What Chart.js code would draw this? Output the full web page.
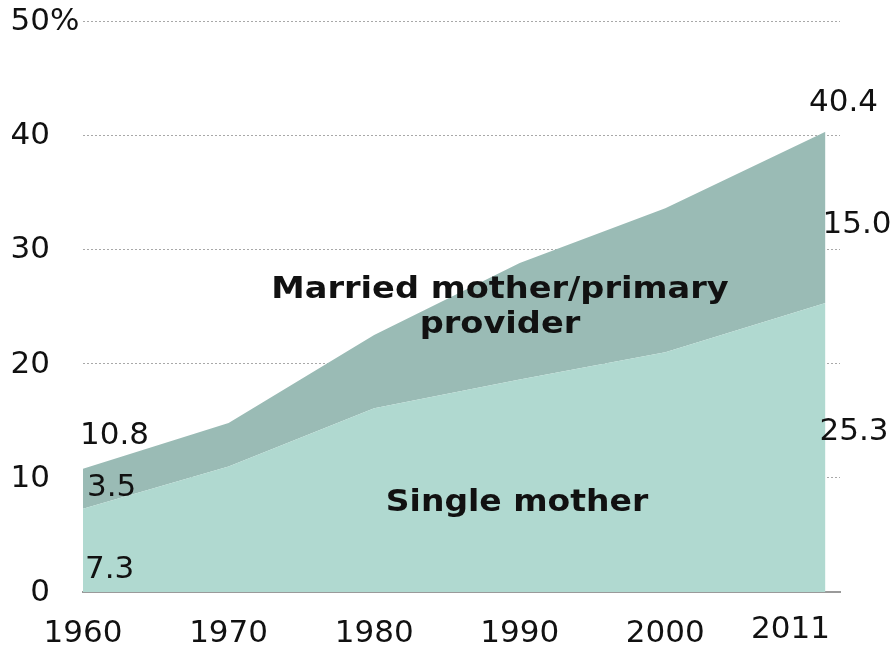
<!DOCTYPE html>
<html>
<head>
<meta charset="utf-8">
<script src="https://cdn.jsdelivr.net/npm/chart.js@4"></script>
<style>
html,body{margin:0;padding:0;background:#fff;}
#wrap{width:895px;height:651px;position:relative;}
</style>
</head>
<body>
<div id="wrap"><canvas id="c" width="895" height="651"></canvas></div>
<script>
const years = [1960, 1970, 1980, 1990, 2000, 2011];
const singleMother = [7.3, 11.0, 16.1, 18.6, 21.0, 25.3];
const marriedMother = [3.5, 3.8, 6.4, 10.2, 12.6, 15.0];
const xTickLabels = ['1960', '1970', '1980', '1990', '2000', '2011'];
const yTicks = [0, 10, 20, 30, 40, 50];
const yTickLabels = ['0', '10', '20', '30', '40', '50%'];

const FONT = '"DejaVu Sans", Verdana, sans-serif';
const LIGHT = 'rgb(176,217,208)';
const DARK = 'rgb(154,187,181)';

function wideText(ctx, txt, cx, cy, sx) {
  ctx.save();
  ctx.translate(cx, cy);
  ctx.scale(sx, 1);
  ctx.textAlign = 'center';
  ctx.fillText(txt, 0, 0);
  ctx.restore();
}

const annotations = {
  id: 'annotations',
  afterDraw(chart) {
    const ctx = chart.ctx;
    const xs = chart.scales.x, ys = chart.scales.y;
    ctx.save();
    ctx.fillStyle = '#111';
    ctx.textBaseline = 'middle';
    ctx.font = '31px ' + FONT;
    // x-axis tick labels, positioned by the x scale
    ctx.textAlign = 'center';
    years.forEach((yr, i) => {
      const last = i === years.length - 1;
      ctx.fillText(xTickLabels[i], xs.getPixelForValue(yr) + (last ? -35 : 0), xs.top + (last ? 38 : 42));
    });
    // y-axis tick labels, positioned by the y scale (numbers right-aligned, % hangs)
    yTicks.forEach((v, i) => {
      const lbl = yTickLabels[i];
      const num = lbl.replace('%', '');
      const y = ys.getPixelForValue(v) + 1;
      ctx.textAlign = 'right';
      ctx.fillText(num, 50, y);
      if (lbl.endsWith('%')) { ctx.textAlign = 'left'; ctx.fillText('%', 50, y); }
    });
    ctx.textAlign = 'left';
    const x0 = xs.getPixelForValue(years[0]);
    const xl = xs.getPixelForValue(years[years.length - 1]);
    ctx.fillText('10.8', x0 - 3, ys.getPixelForValue(13.7));
    ctx.fillText('3.5', x0 + 4, ys.getPixelForValue(9.1));
    ctx.fillText('7.3', x0 + 2, ys.getPixelForValue(1.9));
    ctx.fillText('15.0', xl - 3, ys.getPixelForValue(32.1));
    ctx.fillText('25.3', xl - 6, ys.getPixelForValue(14.0));
    ctx.textAlign = 'center';
    ctx.fillText('40.4', xl + 18, ys.getPixelForValue(42.8));
    ctx.font = 'bold 30px ' + FONT;
    wideText(ctx, 'Married mother/primary', 500, ys.getPixelForValue(26.4), 1.12);
    wideText(ctx, 'provider', 500, ys.getPixelForValue(23.4), 1.12);
    wideText(ctx, 'Single mother', 517, ys.getPixelForValue(7.8), 1.1);
    ctx.restore();
  }
};

new Chart(document.getElementById('c'), {
  type: 'line',
  data: {
    datasets: [
      {
        label: 'Single mother',
        data: years.map((y, i) => ({x: y, y: singleMother[i]})),
        backgroundColor: LIGHT,
        borderWidth: 0,
        pointRadius: 0,
        fill: 'origin',
        tension: 0
      },
      {
        label: 'Married mother/primary provider',
        data: years.map((y, i) => ({x: y, y: marriedMother[i]})),
        backgroundColor: DARK,
        borderWidth: 0,
        pointRadius: 0,
        fill: '-1',
        tension: 0
      }
    ]
  },
  options: {
    responsive: false,
    animation: false,
    events: [],
    layout: {padding: {top: 21, right: 55, left: 0, bottom: 0}},
    plugins: {legend: {display: false}, tooltip: {enabled: false}},
    scales: {
      x: {
        type: 'linear',
        min: 1960,
        max: 2012,
        z: 1,
        afterBuildTicks(scale) { scale.ticks = years.map(v => ({value: v})); },
        afterFit(scale) { scale.height = 59; },
        grid: {display: false, drawTicks: false},
        border: {display: true, color: '#9a9a9a', width: 2},
        ticks: {display: false}
      },
      y: {
        stacked: true,
        min: 0,
        max: 50,
        z: 1,
        afterBuildTicks(scale) { scale.ticks = yTicks.map(v => ({value: v})); },
        afterFit(scale) { scale.width = 83; },
        grid: {
          color: (c) => c.tick && c.tick.value === 0 ? 'rgba(0,0,0,0)' : '#a8a8a8',
          lineWidth: 1,
          drawTicks: false
        },
        border: {display: false, dash: [2, 2]},
        ticks: {display: false}
      }
    }
  },
  plugins: [annotations]
});
</script>
</body>
</html>
